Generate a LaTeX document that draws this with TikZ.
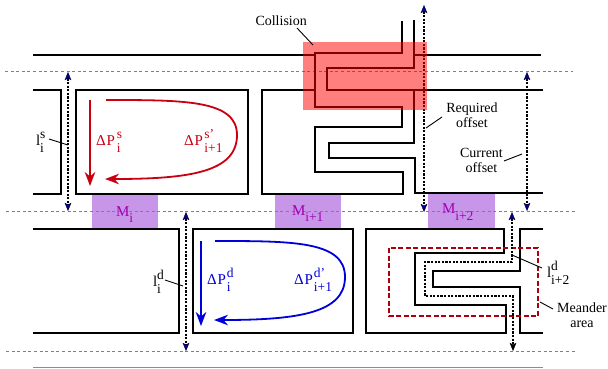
\documentclass[tikz,border=0pt]{standalone}
\usepackage{fontspec}
\setmainfont{Liberation Serif}
\usetikzlibrary{arrows.meta}
\definecolor{purp}{HTML}{C896E8}
\definecolor{mtext}{HTML}{A000B0}
\definecolor{rd}{HTML}{C80010}
\definecolor{bl}{HTML}{0000D8}
\definecolor{nv}{HTML}{0000A0}
\newcommand{\scrfont}{\fontsize{13.5}{14}\selectfont}
\newcommand{\supsub}[2]{{\scrfont\raisebox{7pt}{\makebox[0pt][l]{#1}}\raisebox{-7pt}{#2}}}
\tikzset{
  x=1pt,y=-1pt,
  track/.style={draw=black,line width=1.2pt,line join=miter},
  guide/.style={draw=black!50,line width=0.8pt,dash pattern=on 3pt off 2.6pt},
  pad/.style={fill=purp,draw=none},
  hot/.style={fill=red,fill opacity=0.5,draw=none},
  meander/.style={draw=rd!85!black,line width=1.1pt,dash pattern=on 5pt off 2.5pt},
  callout/.style={draw=black,line width=0.9pt},
  span/.style={draw=black,line width=1.1pt,dash pattern=on 2.2pt off 1.4pt,
    {Stealth[length=8pt,width=6.5pt,inset=1.5pt,fill=nv,line width=0.3pt]}-{Stealth[length=8pt,width=6.5pt,inset=1.5pt,fill=nv,line width=0.3pt]}},
  route/.style={draw=black,line width=1.1pt,dash pattern=on 2.2pt off 1.4pt},
  redarrow/.style={draw=rd,line width=1.8pt,-{Stealth[length=14pt,width=10.5pt,inset=4.5pt]}},
  bluearrow/.style={draw=bl,line width=1.8pt,-{Stealth[length=14pt,width=10.5pt,inset=4.5pt]}},
  lab/.style={anchor=base west,inner sep=0pt,outer sep=0pt,font=\fontsize{15}{16}\selectfont},
  plain/.style={anchor=base west,inner sep=0pt,outer sep=0pt,font=\fontsize{14}{15}\selectfont},
  multi/.style={anchor=base,inner sep=0pt,outer sep=0pt,align=center,font=\fontsize{14}{14.5}\selectfont},
}
\begin{document}
\begin{tikzpicture}
\useasboundingbox (0,0) rectangle (608,368);
% pads
\path[pad] (92,194) rectangle (158,229);
\path[pad] (275,194) rectangle (341,229);
\path[pad] (428,194) rectangle (495,229);
% guides
\draw[guide] (5,71.5) -- (573,71.5);
\draw[guide] (6,211) -- (575,211);
\draw[guide] (6,351) -- (575,351);
\draw[draw=black!45,line width=1pt] (33,367) -- (543,367);
% upper traces
\draw[track] (33,55) -- (315,55);
\draw[track] (414,55) -- (541,55);
\draw[track] (33,90) -- (61,90) -- (61,194) -- (33,194);
\draw[track] (76,90) rectangle (248,194);
\draw[track] (402,21) -- (402,53) -- (315,53) -- (315,107) -- (402,107) -- (402,127) -- (315,127) -- (315,172) -- (403,172) -- (403,194) -- (262,194) -- (262,90) -- (315,90);
\draw[track] (414,20) -- (414,68) -- (327,68) -- (327,90) -- (414,90) -- (414,143) -- (329,143) -- (329,158) -- (415,158) -- (415,193) -- (543,193);
\draw[track] (414,90) -- (543,90);
% lower traces
\draw[track] (33,229) -- (179,229) -- (179,333) -- (33,333);
\draw[track] (193,229) rectangle (353,333);
\draw[track] (366,229) -- (504,229) -- (504,253) -- (415,253) -- (415,305) -- (506,305) -- (506,333) -- (366,333) -- cycle;
\draw[track] (543,229) -- (520,229) -- (520,271) -- (433,271) -- (433,287) -- (520,287) -- (520,333) -- (543,333);
% meander area
\draw[meander] (389,248) rectangle (538,316);
% spans
\draw[span] (68,72) -- (68,211);
\draw[span] (186,212) -- (186,351);
\draw[span] (424,5) -- (424,212);
\draw[span] (527,72) -- (527,211);
\draw[route,{Stealth[length=8pt,width=6.5pt,inset=1.5pt,fill=nv,line width=0.3pt]}-{Stealth[length=8pt,width=6.5pt,inset=1.5pt,fill=black,line width=0.3pt]}]
  (512,212) -- (512,262) -- (425,262) -- (425,296) -- (513,296) -- (513,351);
% collision overlay
\path[hot] (303,42) rectangle (427,110);
% red and blue arrows
\draw[redarrow] (90,100) -- (90,186);
\draw[redarrow] (106,100) .. controls (185,100) and (237,100) .. (237,135) .. controls (237,172) and (190,179) .. (105,179);
\draw[bluearrow] (201,241) -- (201,326);
\draw[bluearrow] (215,241) .. controls (293,241) and (345,241) .. (345,277) .. controls (345,313) and (298,320) .. (214,320);
% labels
\node[plain] (coll) at (255.5,25) {Collision};
\node[multi] (req) at (472,127) {Required\\offset};
\node[multi] (cur) at (481.5,172) {Current\\offset};
\node[multi] (mea) at (582,327) {Meander\\area};
\node[lab,text=mtext] (mi) at (116,216) {M{\scrfont\raisebox{-6pt}{i}}};
\node[lab,text=mtext] (mj) at (292,215) {M{\scrfont\raisebox{-6pt}{i+1}}};
\node[lab,text=mtext] (mk) at (442,213) {M{\scrfont\raisebox{-7pt}{i+2}}};
\node[lab] (ls) at (36,145) {l\supsub{s}{i}};
\node[lab] (ld) at (153,286) {l\supsub{d}{i}};
\node[lab] (lk) at (547,277) {l\supsub{d}{i+2}};
\node[lab,text=rd] (ps) at (96,145) {Δ\hspace{1pt}P\hspace{2pt}\supsub{s}{i}};
\node[lab,text=rd] (pt) at (184,145) {Δ\hspace{1pt}P\hspace{1.5pt}\supsub{s'}{i+1}};
\node[lab,text=bl] (pd) at (207,284.5) {Δ\hspace{1pt}P\hspace{1pt}\supsub{d}{i}};
\node[lab,text=bl] (pe) at (294,284.5) {Δ\hspace{1pt}P\hspace{1pt}\supsub{d'}{i+1}};
% callouts
\coordinate (c1a) at (297,28); \coordinate (c1b) at (313,45);
\coordinate (c2a) at (442,117); \coordinate (c2b) at (426,128);
\coordinate (c3a) at (504,161); \coordinate (c3b) at (522,154);
\coordinate (c4a) at (49,139); \coordinate (c4b) at (68,145);
\coordinate (c5a) at (165,280); \coordinate (c5b) at (183,286);
\coordinate (c6a) at (542,268); \coordinate (c6b) at (512,255);
\coordinate (c7a) at (553,309); \coordinate (c7b) at (540,302);
\draw[callout] (c1a) -- (c1b);
\draw[callout] (c2a) -- (c2b);
\draw[callout] (c3a) -- (c3b);
\draw[callout] (c4a) -- (c4b);
\draw[callout] (c5a) -- (c5b);
\draw[callout] (c6a) -- (c6b);
\draw[callout] (c7a) -- (c7b);
\end{tikzpicture}
\end{document}
